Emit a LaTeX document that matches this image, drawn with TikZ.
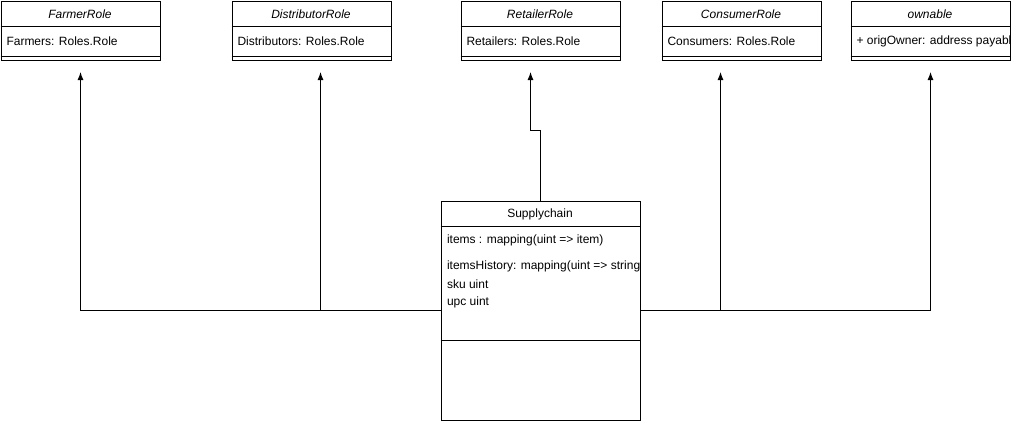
\documentclass[tikz,border=0pt]{standalone}
\usepackage{fontspec}
\setmainfont{Liberation Sans}
\usetikzlibrary{arrows.meta}
\begin{document}
\begin{tikzpicture}[x=1pt,y=-1pt,line width=1pt,
  box/.style={draw,minimum width=159pt,minimum height=59.5pt,anchor=north west,inner sep=0pt},
  hdr/.style={font=\fontsize{12}{14}\selectfont\itshape,anchor=center,inner sep=0pt},
  hdrr/.style={font=\fontsize{12}{14}\selectfont,anchor=center,inner sep=0pt},
  attr/.style={font=\fontsize{12}{14}\selectfont,anchor=west,inner sep=0pt},
  arr/.style={-{Latex[length=8pt,width=6pt]}}]
\useasboundingbox (0,0) rectangle (1011,421);
\clip (0,0) rectangle (1011,421);
% top classes
\foreach \n/\x/\t/\a in {farmer/0.5/FarmerRole/Farmers: Roles.Role,
  distr/231.5/DistributorRole/Distributors: Roles.Role,
  retail/460.5/RetailerRole/Retailers: Roles.Role,
  consum/661.5/ConsumerRole/Consumers: Roles.Role,
  own/850.5/ownable/+ origOwner: address payable}{
  \node[box] (\n) at (\x,0.5) {};
  \draw (\x,26.5) -- ++(159,0);
  \draw (\x,56.5) -- ++(159,0);
  \node[hdr] (\n-h) at (\x+79.5,14) {\t};
  \begin{scope}
  \clip (\x,27) rectangle ++(159,29);
  \node[attr] (\n-a) at (\x+5.5,41) {\a};
  \end{scope}
}
% Supplychain
\node[draw,minimum width=199pt,minimum height=219.5pt,anchor=north west,inner sep=0pt] (sc) at (440.5,200.5) {};
\draw (440.5,226.5) -- ++(199,0);
\draw (440.5,340.5) -- ++(199,0);
\node[hdrr] (sc-h) at (540,214) {Supplychain};
\begin{scope}
\clip (441,227) rectangle (639,340);
\node[attr] (sc-a1) at (446.5,240) {items : mapping(uint => item)};
\node[attr] (sc-a2) at (446.5,266) {itemsHistory: mapping(uint => string)};
\node[attr] (sc-a3) at (446.5,284) {sku uint};
\node[attr] (sc-a4) at (446.5,302) {upc uint};
\end{scope}
% connectors
\coordinate (jl) at (80.5,310.5);
\coordinate (jd) at (320.5,310.5);
\coordinate (jr) at (720.5,310.5);
\coordinate (jo) at (930.5,310.5);
\coordinate (ft) at (80.5,72);
\coordinate (dt) at (320.5,72);
\coordinate (rt) at (530.5,72);
\coordinate (ct) at (720.5,72);
\coordinate (ot) at (930.5,72);
\coordinate (rb1) at (540.5,130.5);
\coordinate (rb2) at (530.5,130.5);
\draw[arr] (sc.west |- jl) -- (jl) -- (ft);
\draw[arr] (jd) -- (dt);
\draw[arr] (sc.east |- jo) -- (jo) -- (ot);
\draw[arr] (jr) -- (ct);
\draw[arr] (sc.north -| rb1) -- (rb1) -- (rb2) -- (rt);
\end{tikzpicture}
\end{document}
